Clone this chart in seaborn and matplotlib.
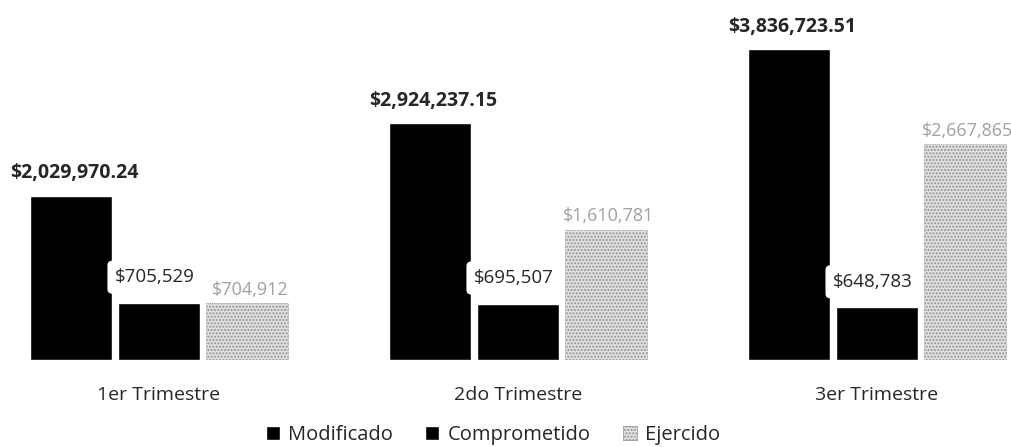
import numpy as np
import pandas as pd
import matplotlib
matplotlib.use("Agg")
import matplotlib.pyplot as plt
from matplotlib.patches import Patch
import seaborn as sns

# datos por trimestre
trimestres = ["1er Trimestre", "2do Trimestre", "3er Trimestre"]
series = ["Modificado", "Comprometido", "Ejercido"]
modificado = [2029970.24, 2924237.15, 3836723.51]
comprometido = [705529, 695507, 648783]
ejercido = [704912, 1610781, 2667865]

df = pd.DataFrame({
    "trimestre": trimestres * 3,
    "serie": [s for s in series for _ in trimestres],
    "monto": modificado + comprometido + ejercido,
})

sns.set_style("white")
plt.rcParams["font.family"] = ["Open Sans", "DejaVu Sans"]

fig = plt.figure(figsize=(10.12, 4.47), dpi=100)
ax = fig.add_axes([0, 1 - 360 / 447, 1, 360 / 447])

palette = {"Modificado": "#000000", "Comprometido": "#000000", "Ejercido": "#e2e2e2"}
sns.barplot(data=df, x="trimestre", y="monto", hue="serie", order=trimestres,
            hue_order=series, palette=palette, width=0.735, gap=0.06,
            saturation=1, legend=False, ax=ax)

# textura del ejercido
for p in ax.containers[2]:
    p.set_hatch(".....")
    p.set_edgecolor("#8f8f8f")
    p.set_linewidth(0.6)
    p.set_linestyle((0, (1, 1.5)))

ax.set_ylim(0, 360 * 12350)
ax.set_xlim(-0.443, 2.376)
ax.set_xlabel("")
ax.set_ylabel("")
ax.set_yticks([])
sns.despine(ax=ax, left=True, bottom=True)
ax.tick_params(axis="x", length=0, pad=19, labelsize=14)

# etiquetas de valores
for p, v in zip(ax.containers[0], modificado):
    ax.annotate(f"${v:,.2f}", (p.get_x() + p.get_width() / 2, p.get_height()),
                xytext=(2, 9), textcoords="offset points", ha="center",
                va="bottom", fontsize=14, fontweight="bold")
for p, v in zip(ax.containers[1], comprometido):
    ax.annotate(f"${v:,.0f}", (p.get_x() + p.get_width() / 2, p.get_height()),
                xytext=(-3, 12), textcoords="offset points", ha="center",
                va="bottom", fontsize=13.5,
                bbox=dict(boxstyle="round,pad=0.4,rounding_size=0.25",
                          fc="white", ec="none"))
for p, v in zip(ax.containers[2], ejercido):
    ax.annotate(f"${v:,.0f}", (p.get_x() + p.get_width() / 2, p.get_height()),
                xytext=(2, 3), textcoords="offset points", ha="center",
                va="bottom", fontsize=13, color="#a0a0a0")

handles = [Patch(fc="#000000"), Patch(fc="#000000"),
           Patch(fc="#e2e2e2", hatch=".....", ec="#8f8f8f", lw=0.5)]
fig.legend(handles, series, loc="lower center", bbox_to_anchor=(0.487, -0.036),
           ncol=3, frameon=False, fontsize=14.5, handlelength=0.7,
           handleheight=0.7, handletextpad=0.4, columnspacing=1.6)

fig.savefig("out.png", dpi=100)
